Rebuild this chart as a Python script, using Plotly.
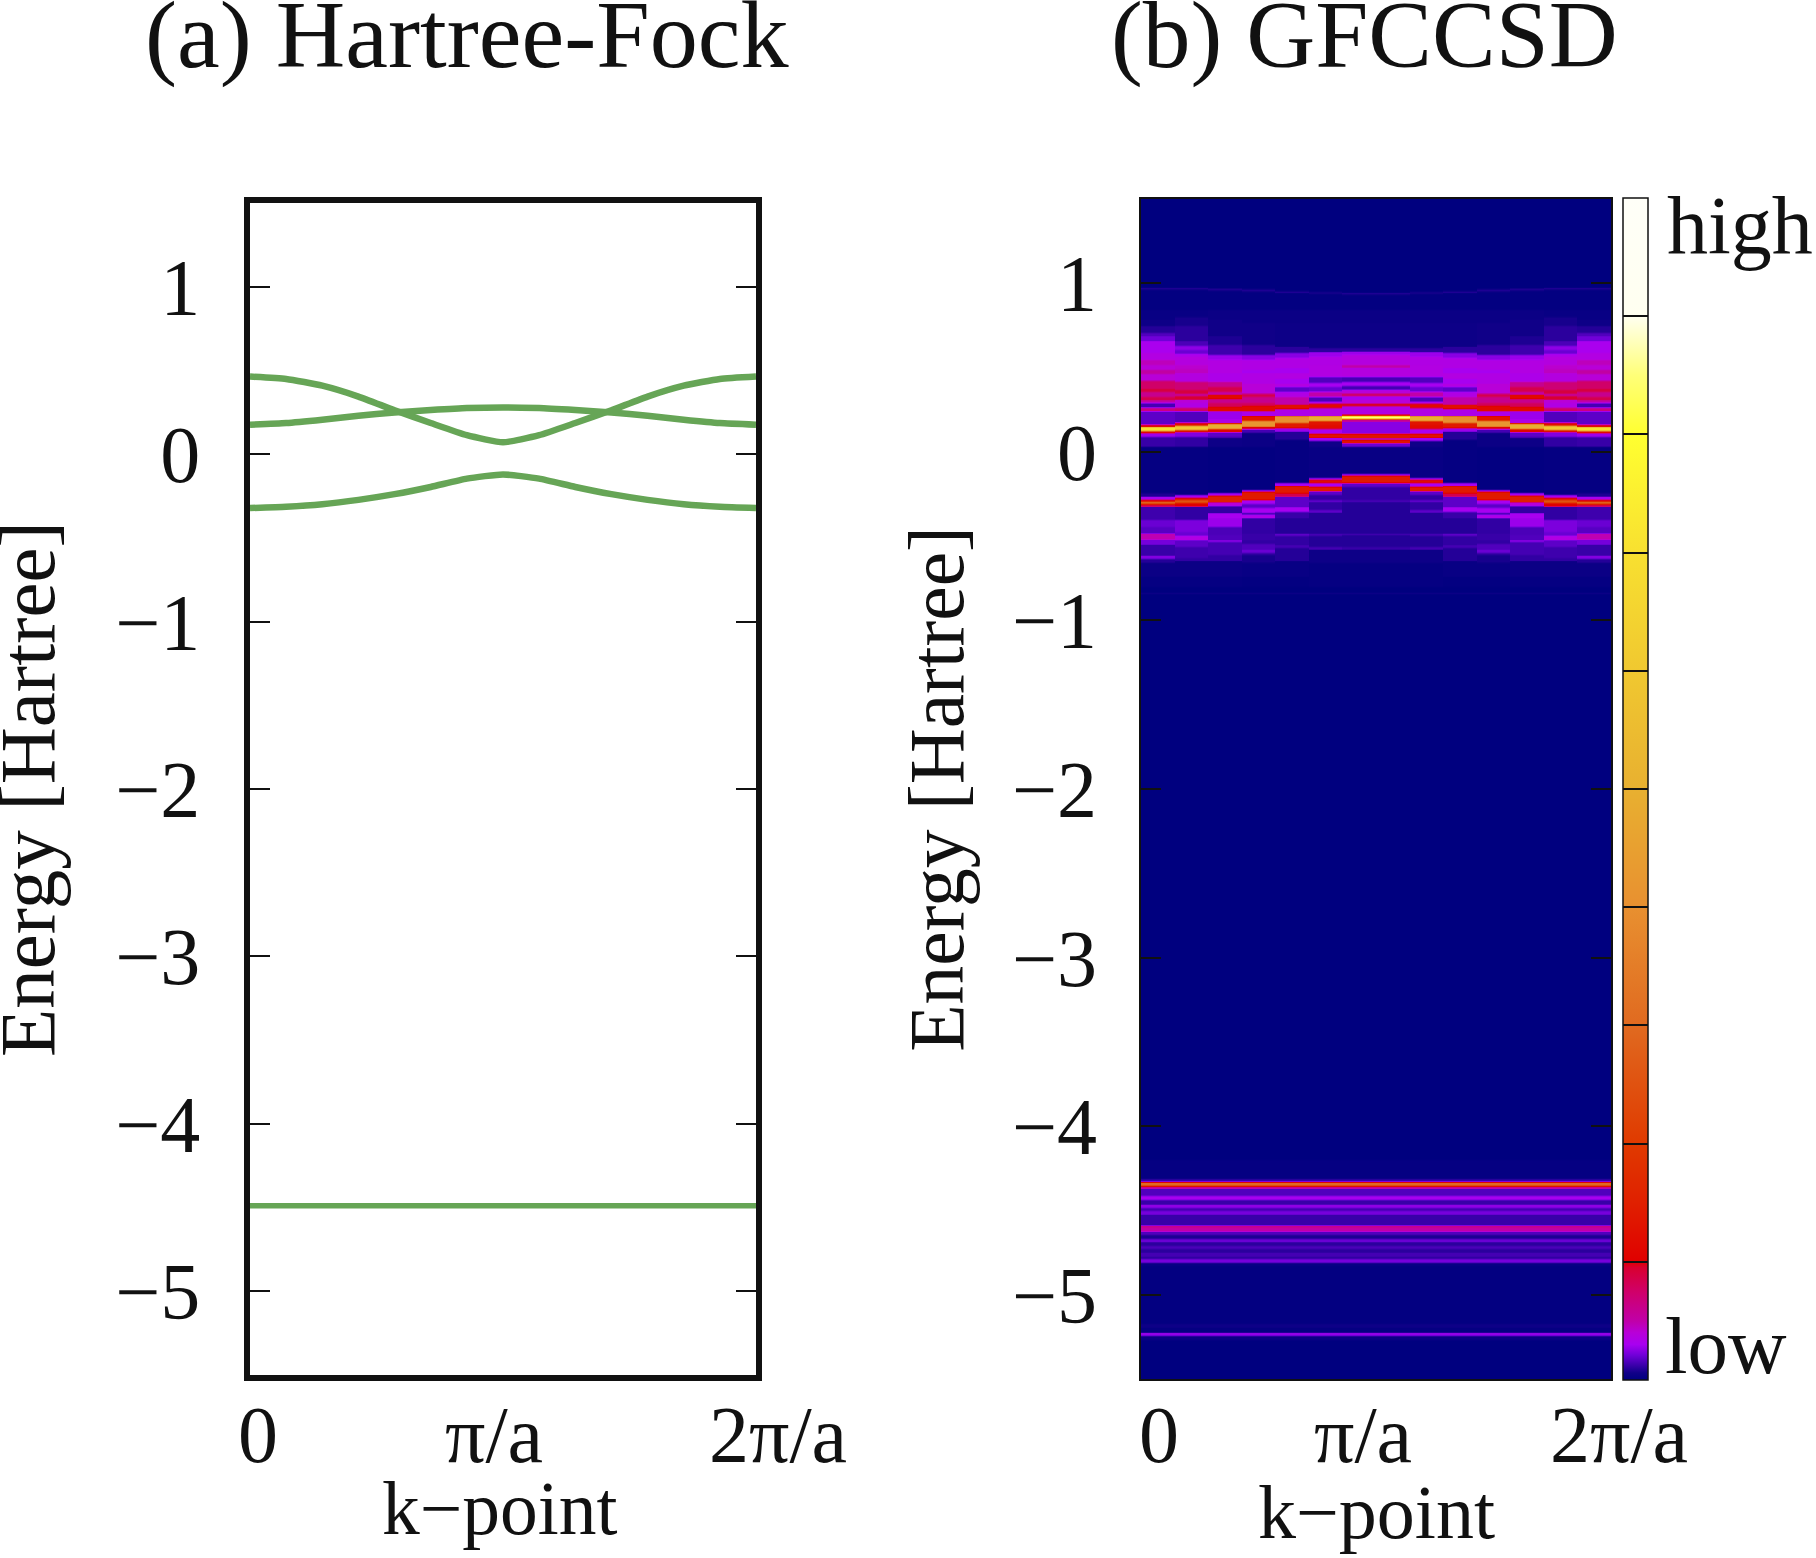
import numpy as np
import plotly.graph_objects as go

FONT = "Liberation Serif"
W, H = 1816, 1558

# ---------- Panel (a): Hartree-Fock bands (k in units of pi/a)
k_hf = [0, 1/7, 2/7, 3/7, 4/7, 5/7, 6/7, 1, 8/7, 9/7, 10/7, 11/7, 12/7, 13/7, 2]
band_a = [0.463, 0.449, 0.409, 0.344, 0.262, 0.186, 0.113, 0.071, 0.113, 0.186, 0.262, 0.344, 0.409, 0.449, 0.463]
band_b = [0.176, 0.186, 0.206, 0.229, 0.249, 0.263, 0.275, 0.279, 0.275, 0.263, 0.249, 0.229, 0.206, 0.186, 0.176]
band_c = [-0.322, -0.314, -0.299, -0.273, -0.239, -0.196, -0.146, -0.121, -0.146, -0.196, -0.239, -0.273, -0.299, -0.314, -0.322]
band_d = [-4.489] * 15

# ---------- Panel (b): spectral function, (upper energy of a run, intensity of the run) per k-point
k0 = [(0.975,.008),(0.962,.001),(.842,.003),(.783,.005),(.743,.009),(.703,.016),(.684,.021),(.654,.031),(.585,.036),(.545,.046),(.515,.04),(.486,.052),(.462,.04),(.422,.075),(.377,.09),(.357,.06),(.323,.085),(.307,.05),(.292,.014),(.262,.065),(.238,.018),(.159,.12),(.145,.7),(.125,.14),(.109,.028),(.091,.012),(.032,.002),(-.245,.008),(-.265,.03),(-.285,.12),(-.295,.28),(-.309,.09),(-.325,.013),(-.403,.02),(-.443,.017),(-.486,.048),(-.518,.022),(-.552,.012),(-.617,.024),(-.637,.009),(-.661,.004),(-.74,.002)]
k1 = [(0.975,.008),(0.962,.001),(.842,.003),(.802,.007),(.743,.01),(.654,.015),(.628,.026),(.604,.02),(.579,.033),(.565,.037),(.515,.042),(.490,.045),(.466,.037),(.416,.07),(.367,.09),(.347,.05),(.331,.095),(.311,.04),(.292,.035),(.258,.075),(.238,.016),(.169,.12),(.153,.6),(.129,.12),(.113,.024),(.091,.011),(.032,.002),(-.256,.03),(-.275,.12),(-.285,.25),(-.305,.1),(-.325,.011),(-.404,.023),(-.473,.02),(-.499,.036),(-.527,.018),(-.563,.013),(-.632,.011),(-.652,.004),(-.741,.002)]
k2 = [(0.970,.008),(0.957,.001),(.842,.004),(.783,.006),(.684,.008),(.634,.013),(.575,.028),(.545,.036),(.466,.033),(.416,.06),(.383,.085),(.357,.05),(.341,.115),(.315,.06),(.292,.08),(.264,.115),(.238,.028),(.189,.035),(.165,.5),(.133,.11),(.113,.018),(.091,.012),(.081,.005),(.032,.001),(-.246,.03),(-.26,.15),(-.301,.04),(-.321,.011),(-.365,.03),(-.394,.028),(-.444,.015),(-.493,.016),(-.523,.026),(-.533,.014),(-.612,.011),(-.652,.004),(-.741,.002)]
k3 = [(0.965,.008),(0.952,.001),(.842,.004),(.763,.006),(.634,.01),(.575,.025),(.545,.035),(.486,.03),(.466,.035),(.406,.04),(.347,.085),(.323,.06),(.288,.08),(.268,.115),(.242,.032),(.212,.13),(.183,.42),(.149,.11),(.133,.014),(.111,.004),(.032,.001),(-.226,.03),(-.24,.14),(-.285,.03),(-.309,.018),(-.335,.03),(-.361,.016),(-.374,.034),(-.394,.011),(-.483,.012),(-.523,.011),(-.543,.016),(-.582,.02),(-.598,.011),(-.612,.007),(-.662,.003),(-.741,.001)]
k4 = [(0.955,.008),(0.942,.001),(.842,.004),(.763,.005),(.624,.01),(.585,.025),(.555,.035),(.495,.03),(.466,.036),(.436,.03),(.406,.036),(.383,.018),(.357,.035),(.327,.05),(.278,.125),(.254,.033),(.212,.4),(.169,.14),(.139,.028),(.119,.009),(.071,.002),(-.186,.03),(-.206,.14),(-.246,.085),(-.266,.018),(-.329,.03),(-.355,.012),(-.394,.009),(-.487,.018),(-.499,.011),(-.553,.014),(-.572,.009),(-.652,.003),(-.741,.001)]
k5 = [(0.950,.008),(0.937,.001),(.842,.004),(.763,.005),(.614,.01),(.589,.028),(.565,.035),(.515,.036),(.446,.016),(.410,.03),(.387,.02),(.357,.05),(.327,.015),(.297,.04),(.284,.115),(.258,.035),(.212,.5),(.185,.13),(.159,.115),(.133,.03),(.107,.13),(.083,.03),(.067,.006),(.032,.003),(-.157,.03),(-.166,.12),(-.186,.03),(-.21,.14),(-.236,.018),(-.256,.011),(-.285,.018),(-.301,.011),(-.345,.018),(-.361,.009),(-.483,.014),(-.499,.009),(-.563,.014),(-.578,.005),(-.662,.002)]
k6 = [(0.945,.008),(0.932,.001),(.842,.004),(.763,.005),(.614,.01),(.594,.028),(.575,.037),(.515,.05),(.501,.037),(.446,.014),(.416,.03),(.391,.014),(.367,.04),(.347,.085),(.331,.03),(.311,.04),(.284,.115),(.268,.035),(.218,.2),(.208,.85),(.195,.06),(.179,.025),(.107,.13),(.081,.03),(.071,.13),(.051,.02),(.032,.003),(-.131,.03),(-.147,.14),(-.186,.018),(-.21,.011),(-.285,.014),(-.301,.009),(-.483,.014),(-.493,.009),(-.563,.012),(-.578,.005),(-.662,.002)]
faint_tail = [(-.80,0),(-.835,.005),(-.845,0)]
deep_levels = [(-4.2,.002),(-4.315,.012),(-4.33,.06),(-4.337,.3),(-4.357,.06),(-4.372,.016),(-4.416,.03),(-4.44,.012),(-4.466,.026),(-4.485,.014),(-4.505,.022),(-4.525,.012),(-4.592,.06),(-4.605,.05),(-4.624,.016),(-4.644,.008),(-4.669,.02),(-4.689,.01),(-4.709,.015),(-4.732,.01),(-4.752,.014),(-4.776,.01),(-4.792,.022),(-4.812,.003),(-4.831,.001),(-5.177,.005),(-5.197,.002),(-5.226,.027),(-5.246,.004),(-5.27,0)]
kpoint_columns = [k0, k1, k2, k3, k4, k5, k6, k6, k5, k4, k3, k2, k1, k0]

y_ticks = [1, 0, -1, -2, -3, -4, -5]
y_tick_text = ["1", "0", "\u22121", "\u22122", "\u22123", "\u22124", "\u22125"]
x_labels = ["0", "\u03c0/a", "2\u03c0/a"]

# ---------- build the intensity table
energy = np.arange(-5.5, 1.5, 0.005) + 0.0025
def column(runs):
    runs = [(1.6, 0)] + runs + faint_tail + deep_levels
    tops = np.array([r[0] for r in runs])
    lev = np.array([r[1] for r in runs])
    v = lev[np.searchsorted(-tops, -energy, side="right") - 1]
    return np.convolve(v, [.25, .5, .25], mode="same")   # the reference is slightly soft along energy
z = np.array([column(c) for c in kpoint_columns]).T

colorscale = [[0,"#00007f"],[.006,"#100088"],[.012,"#3800a8"],[.021,"#7000d8"],[.03,"#a800f0"],[.04,"#b800d8"],
              [.05,"#c000a8"],[.075,"#d00068"],[.095,"#d80030"],[.1,"#e00000"],[.15,"#e02000"],[.2,"#e03a00"],
              [.3,"#e06a20"],[.4,"#e89030"],[.5,"#e8b030"],[.6,"#f0c830"],[.7,"#f8e030"],[.8,"#ffff30"],
              [.85,"#ffff78"],[.9,"#fffff0"],[1,"#fffff8"]]

fig = go.Figure()
GREEN = "#66a556"
for name, band in [("a", band_a), ("b", band_b), ("c", band_c), ("d", band_d)]:
    fig.add_trace(go.Scatter(x=k_hf, y=band, mode="lines", name=name, showlegend=False,
                             line=dict(color=GREEN, width=6.5 if name != "d" else 5.5, shape="spline", smoothing=0.5), xaxis="x", yaxis="y"))
fig.add_trace(go.Heatmap(z=z, x=list(range(14)), y=energy, zmin=0, zmax=1, colorscale=colorscale, zsmooth=False,
                         xaxis="x2", yaxis="y2", hoverinfo="skip",
                         colorbar=dict(x=1623/W, xanchor="left", xref="paper", y=1-1380/H, yanchor="bottom", yref="paper",
                                       len=1182/H, lenmode="fraction", thickness=25, thicknessmode="pixels",
                                       xpad=0, ypad=0, outlinecolor="#111", outlinewidth=1.5,
                                       ticks="inside", ticklen=25, tickwidth=1.5, tickcolor="#111",
                                       tickvals=[.1,.2,.3,.4,.5,.6,.7,.8,.9], showticklabels=False)))

def dom_x(a, b): return [a/W, b/W]
def dom_y(top, bot): return [1-bot/H, 1-top/H]

tickfont = dict(family=FONT, size=80, color="#111")
fig.update_layout(
    width=W, height=H, margin=dict(l=0, r=0, t=0, b=0, autoexpand=False), paper_bgcolor="white", plot_bgcolor="white",
    font=dict(family=FONT, color="#111"), showlegend=False,
    xaxis=dict(domain=dom_x(250,756), range=[0,2], showgrid=False, zeroline=False, ticks="", showticklabels=False,
               showline=True, mirror=True, linewidth=5.5, linecolor="#111", automargin=False),
    yaxis=dict(domain=dom_y(203,1375), range=[-5.5,1.5], showgrid=False, zeroline=False, tickvals=y_ticks, ticktext=y_tick_text,
               ticks="inside", ticklen=20, tickwidth=2, tickcolor="#111", tickfont=tickfont, ticklabelstandoff=28, automargin=False,
               showline=True, mirror="allticks", linewidth=5.5, linecolor="#111"),
    xaxis2=dict(domain=dom_x(1141,1611), range=[-0.5,13.5], showgrid=False, zeroline=False, ticks="", showticklabels=False,
                showline=True, mirror=True, linewidth=2, linecolor="#111", anchor="y2", automargin=False),
    yaxis2=dict(domain=dom_y(199,1379), range=[-5.5,1.5], anchor="x2", showgrid=False, zeroline=False, tickvals=y_ticks, ticktext=y_tick_text,
                ticks="inside", ticklen=20, tickwidth=1.5, tickcolor="#111", tickfont=tickfont, ticklabelstandoff=26, automargin=False,
                showline=True, mirror="allticks", linewidth=2, linecolor="#111",
                title=dict(text="Energy [Hartree]", font=dict(family=FONT, size=77.5, color="#111"), standoff=23)),
)

def note(text, x, y, size, angle=0):
    fig.add_annotation(text=text, x=x/W, y=1-y/H, xref="paper", yref="paper", showarrow=False, xanchor="center", yanchor="middle",
                       textangle=angle, font=dict(family=FONT, size=size, color="#111"))
note("(a) Hartree-Fock", 467, 35, 96.2)
note("(b) GFCCSD", 1364, 35, 95.5)
note("Energy [Hartree]", 27, 789, 79, angle=-90)
for lab, x in zip(x_labels, [258, 494, 778]):
    note(lab, x, 1435, 80)
for lab, x in zip(x_labels, [1159, 1363, 1619]):
    note(lab, x, 1435, 80)
note("k\u2212point", 499.5, 1508, 75.5)
note("k\u2212point", 1376, 1512, 76)
note("high", 1740, 226, 82)
note("low", 1726, 1346, 81)

fig.write_html("out.html", config=dict(displayModeBar=False), post_script="document.body.style.margin='0';")
